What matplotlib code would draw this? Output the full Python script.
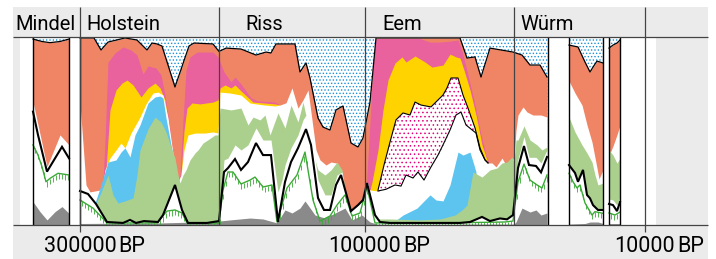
import numpy as np
import matplotlib
matplotlib.use("Agg")
import matplotlib.pyplot as plt
from matplotlib.patches import Rectangle

plt.rcParams['font.family'] = ['Roboto', 'DejaVu Sans']
plt.rcParams['hatch.linewidth'] = 0.6

# colours
SALMON = '#f08566'
PINK = '#e9619d'
YELLOW = '#ffd300'
LGREEN = '#abd08e'
BLUE = '#5cc4ef'
GRAY = '#8a8a8a'
BAND = '#ebebeb'
DOTBLUE = '#1a90d8'
DOTPINK = '#e5007d'
HGREEN = '#3aaa35'

# periods (label, position of label) and boundaries
periods = ['Mindel', 'Holstein', 'Riss', 'Eem', 'Würm']
period_label_x = [15, 86, 245, 382, 520]
period_lines = [80, 219, 365, 514, 645]
age_ticks = [80, 365, 645]
age_labels = ['300000', '100000', '10000']

# sampled core sections (x range)
sections = [(33, 69), (80, 548), (569, 603), (609, 620)]

# ---- Mindel section, cumulative %, (position, value) ----
top_A = [(33, 98.9), (42, 97.6), (50, 97.0), (60, 97.6), (69, 98.9)]
white_A = [(33, 65.6), (47, 31.0), (60, 47.9), (69, 42.6)]
black_A = [(33, 60.3), (38, 47.9), (47, 28.4), (62, 41.6), (69, 35.5)]
herb_A = [(33, 42.6), (38, 37.2), (42, 31.0), (46, 23.0), (50, 24.8), (58, 27.5), (69, 26.6)]
gray_A = [(33, 12.4), (40, 7.1), (47, 2.7), (55, 7.1), (62, 9.8), (69, 6.2)]

# ---- main section ----
top_B = [(80, 99.5), (94, 99.5), (101, 93.1), (108, 97.3), (125, 99.5), (137, 98.4), (147, 93.1),
         (152, 96.8), (157, 96.3), (162, 95.2), (175, 73.4), (189, 95.2), (194, 96.8), (213, 96.3),
         (219, 92.3), (226, 94.1), (241, 93.6), (256, 90.4), (266, 92.0), (271, 91.5), (276, 96.3),
         (295, 96.3), (300, 81.4), (306, 86.2), (310, 78.2), (318, 56.9), (323, 52.1), (330, 50.5),
         (336, 61.2), (343, 63.3), (351, 43.6), (358, 41.5), (363, 46.3), (370, 65.4), (376, 99.5),
         (460, 99.5), (467, 88.8), (475, 89.4), (481, 78.7), (490, 94.1), (501, 93.1), (513, 92.0),
         (522, 90.4), (530, 85.1), (540, 85.1), (547, 78.7)]
pink_B1 = [(103, 22.9), (105, 45.0), (108, 86.7), (115, 91.5), (123, 94.7), (131, 93.1), (137, 90.4),
           (143, 80.3), (148, 84.6), (156, 83.5), (161, 79.8), (165, 69.1), (170, 50.5), (174, 31.9),
           (177, 22.9), (180, 26.6), (183, 55.9), (186, 82.4), (190, 89.4), (197, 92.0), (213, 92.0),
           (218, 89.4), (220, 86.7), (224, 81.4), (231, 76.1), (235, 78.7), (241, 75.0), (251, 67.6),
           (258, 66.0), (275, 65.4), (280, 63.8)]
pink_B2 = [(366, 18.6), (370, 55.0), (373, 85.0), (376, 99.2), (420, 99.2), (430, 97.3), (440, 97.3),
           (450, 97.8), (458, 98.4), (462, 92.6), (468, 79.8), (474, 66.5), (480, 50.5), (486, 37.2),
           (489, 33.0)]
yellow_B1 = [(103, 22.9), (106, 29.3), (110, 61.2), (116, 71.8), (122, 75.5), (127, 77.1), (133, 74.5),
             (141, 68.1), (148, 72.9), (155, 75.5), (160, 72.9), (165, 66.5), (170, 47.9), (175, 29.3),
             (178, 22.9), (181, 26.6), (184, 50.0), (187, 62.2), (192, 64.9), (200, 64.4), (213, 65.4),
             (218, 66.5), (220, 72.9), (225, 74.5), (231, 72.9), (235, 74.5), (241, 71.3), (253, 65.4),
             (275, 64.4), (280, 63.8)]
yellow_B2 = [(370, 18.6), (372, 22.9), (378, 39.9), (383, 61.2), (388, 77.1), (395, 86.2), (402, 89.4),
             (406, 86.7), (415, 89.9), (425, 86.7), (432, 84.0), (438, 84.6), (443, 85.1), (450, 90.9),
             (456, 89.4), (460, 88.8), (464, 82.4), (470, 71.8), (476, 58.5), (482, 42.6), (487, 34.6),
             (488, 33.0)]
hazel_B = [(378, 18.6), (380, 22.9), (384, 31.9), (390, 44.1), (396, 55.9), (403, 59.6), (410, 58.5),
           (415, 65.4), (421, 63.8), (431, 62.8), (438, 66.5), (443, 69.1), (447, 72.9), (451, 78.2),
           (458, 78.2), (463, 69.1), (468, 62.2), (475, 51.6), (480, 41.0), (485, 34.6), (488, 33.0)]
white_B = [(80, 64.9), (86, 21.3), (90, 17.6), (100, 18.6), (103, 22.9), (105, 29.3), (110, 35.6),
           (116, 39.9), (121, 43.6), (125, 41.0), (131, 48.9), (140, 57.4), (146, 64.4), (153, 70.2),
           (158, 70.7), (163, 69.1), (168, 56.9), (175, 30.3), (178, 22.9), (181, 26.6), (184, 39.9),
           (188, 47.9), (195, 48.9), (205, 48.9), (213, 49.5), (218, 48.9), (220, 70.7), (230, 70.2),
           (241, 69.1), (250, 64.9), (256, 64.4), (265, 63.8), (275, 63.3), (280, 63.8), (286, 65.0),
           (292, 72.9), (298, 62.2), (303, 66.5), (308, 71.8), (312, 55.9), (316, 39.9), (320, 34.6),
           (326, 31.9), (331, 33.5), (337, 32.9), (342, 25.0), (347, 12.8), (352, 7.4), (360, 9.0),
           (365, 21.3), (370, 18.6), (378, 18.1), (386, 19.0), (395, 21.3), (401, 20.7), (406, 26.6),
           (413, 25.0), (418, 28.2), (424, 23.9), (431, 30.9), (438, 37.2), (443, 42.6), (450, 50.5),
           (456, 58.5), (461, 60.1), (466, 53.2), (476, 48.9), (480, 39.9), (485, 34.6), (488, 33.0),
           (492, 33.0), (496, 30.9), (502, 35.6), (507, 30.9), (512, 35.6), (514, 34.6), (516, 50.5),
           (518, 58.5), (523, 62.8), (527, 60.1), (533, 58.5), (541, 58.5), (547, 57.4)]
blue_B1 = [(95, 11.7), (100, 19.7), (104, 26.6), (108, 33.5), (116, 34.6), (121, 38.8), (125, 41.0),
           (130, 36.2), (135, 47.9), (140, 53.2), (148, 64.9), (155, 68.1), (160, 68.6), (163, 67.6),
           (166, 56.9), (172, 39.9), (175, 30.3), (178, 22.9), (180, 22.3)]
blue_B2 = [(395, 2.1), (403, 5.3), (417, 9.0), (430, 16.0), (436, 13.3), (443, 12.8), (450, 21.3),
           (458, 38.8), (463, 37.2), (470, 38.8), (474, 31.9), (476, 28.2)]
green_B = [(88, 16.5), (92, 11.7), (96, 11.7), (100, 16.0), (104, 21.3), (108, 26.6), (113, 16.0),
           (118, 11.7), (125, 12.8), (133, 14.4), (137, 26.6), (140, 39.9), (148, 51.1), (155, 57.4),
           (161, 54.8), (166, 49.5), (172, 39.9), (175, 35.6), (178, 26.6), (180, 22.3), (183, 26.6),
           (186, 29.3), (190, 34.6), (195, 38.3), (198, 39.9), (203, 43.6), (209, 45.7), (215, 47.9),
           (218, 47.9), (220, 62.2), (231, 61.2), (241, 62.2), (248, 53.2), (253, 57.4), (260, 55.9),
           (265, 58.5), (270, 47.9), (278, 59.6), (285, 51.6), (291, 63.8), (298, 54.8), (303, 65.4),
           (308, 53.2), (312, 39.9), (318, 29.3), (325, 26.6), (331, 29.3), (337, 33.5), (342, 29.3),
           (347, 12.8), (352, 6.9), (360, 8.0), (365, 16.0), (368, 22.3), (372, 10.6), (376, 3.2),
           (390, 3.2), (420, 2.7), (440, 3.2), (455, 5.3), (462, 8.0), (467, 10.6), (473, 28.2),
           (482, 25.5), (490, 29.3), (497, 30.3), (502, 33.0), (507, 33.5), (512, 36.2), (514, 33.5),
           (516, 45.2), (518, 45.2), (524, 52.7), (530, 45.2), (537, 42.6), (542, 39.9), (547, 41.5)]
gap_B1 = [(219, 2.1), (222, 21.3), (224, 34.6), (228, 35.6), (235, 42.6), (241, 39.9), (248, 42.6),
          (256, 51.6), (263, 45.2), (271, 45.2), (275, 29.3), (278, 17.6), (282, 23.9), (285, 31.9),
          (291, 41.0), (298, 47.9), (303, 55.9), (306, 58.5), (311, 50.5), (318, 23.9), (325, 16.0),
          (331, 16.0), (337, 26.6), (342, 28.2), (347, 10.6), (352, 6.9), (360, 9.0), (365, 16.0),
          (368, 22.3), (372, 8.0), (376, 5.3)]
gap_B2 = [(514, 5.3), (516, 25.0), (518, 35.0), (524, 47.0), (529, 36.0), (536, 36.0), (541, 33.0),
          (547, 40.0)]
black_B = [(80, 18.1), (88, 16.5), (96, 11.2), (107, 1.6), (123, 1.1), (130, 2.7), (136, 1.1), (144, 2.1),
           (158, 1.6), (163, 5.3), (175, 21.3), (182, 8.0), (188, 1.1), (207, 1.1), (213, 1.6), (219, 2.1),
           (224, 28.2), (228, 30.3), (235, 35.1), (241, 29.3), (248, 33.5), (256, 43.6), (263, 37.2),
           (271, 37.2), (278, 1.6), (285, 22.9), (291, 33.5), (298, 40.9), (306, 51.0), (311, 42.6),
           (318, 14.4), (324, 8.0), (330, 8.0), (336, 21.3), (341, 26.6), (351, 7.4), (358, 10.6),
           (363, 13.3), (367, 22.3), (375, 5.3), (380, 1.6), (390, 1.1), (460, 1.1), (470, 1.6),
           (482, 4.3), (490, 2.1), (500, 3.5), (507, 3.0), (513, 5.3), (518, 30.3), (524, 42.0),
           (529, 31.9), (536, 31.4), (541, 28.0), (547, 36.2)]
herb_B = [(80, 13.3), (93, 9.0), (107, 1.1), (157, 1.1), (167, 7.4), (175, 8.0), (182, 6.4), (187, 1.1),
          (219, 1.1), (223, 18.6), (228, 28.2), (233, 28.2), (241, 21.8), (250, 23.9), (255, 25.5),
          (263, 20.2), (272, 21.3), (277, 1.6), (287, 19.7), (297, 26.6), (305, 38.8), (313, 13.3),
          (320, 2.1), (330, 4.8), (337, 10.6), (345, 16.0), (352, 4.8), (360, 6.4), (367, 20.2),
          (375, 1.1), (470, 1.3), (505, 1.6), (513, 2.1), (518, 22.9), (524, 32.4), (530, 23.9),
          (537, 21.3), (542, 19.7), (547, 26.6)]
gray_B = [(80, 0.8), (160, 1.1), (198, 1.6), (219, 2.1), (230, 2.7), (250, 3.7), (263, 3.2), (277, 1.1),
          (285, 8.0), (292, 6.4), (300, 9.0), (305, 12.8), (315, 5.3), (325, 3.7), (337, 6.9), (345, 9.0),
          (352, 2.7), (362, 5.3), (370, 1.6), (377, 0.5), (514, 0.5), (516, 1.6), (522, 9.0), (530, 6.9),
          (536, 8.0), (541, 5.3), (547, 6.4)]

# ---- late sections ----
top_C = [(569, 95.7), (578, 94.7), (585, 86.7), (590, 81.4), (593, 84.0), (597, 87.2), (603, 86.2)]
white_C = [(569, 76.6), (575, 70.2), (582, 63.8), (587, 53.2), (592, 44.1), (597, 30.3), (599, 24.5), (603, 29.3)]
green_C = [(569, 57.4), (575, 49.5), (582, 42.6), (587, 38.3), (592, 33.5), (595, 26.6), (598, 21.3), (603, 22.3)]
black_C = [(569, 31.9), (575, 27.7), (578, 23.0), (583, 29.3), (587, 16.0), (590, 14.2), (593, 10.6),
           (598, 8.0), (603, 8.0)]
herb_C = [(569, 27.5), (573, 23.0), (577, 19.7), (580, 21.3), (585, 11.7), (592, 5.3), (595, 7.1), (603, 6.2)]
gray_C = [(569, 0.5), (585, 0.8), (590, 1.6), (598, 1.6), (603, 0.8)]

top_D = [(609, 94.1), (613, 95.7), (617, 96.8), (620, 98.4)]
white_D = [(609, 37.0), (613, 42.0), (617, 48.0), (620, 53.0)]
green_D = [(609, 39.9), (613, 37.2), (617, 32.9), (620, 35.6)]
gap_D = [(609, 13.8), (613, 13.3), (617, 10.6), (620, 14.9)]
black_D = [(609, 11.2), (613, 10.6), (617, 7.4), (620, 12.2)]
herb_D = [(609, 6.4), (615, 5.3), (620, 6.9)]
gray_D = [(609, 0.5), (620, 0.5)]


def xy(seq):
    a = np.array(seq, dtype=float)
    return a[:, 0], a[:, 1]


fig = plt.figure(figsize=(7.16, 2.59), dpi=100)
ax = fig.add_axes([0, 0, 1, 1])
ax.set_xlim(0, 716)
ax.set_ylim(-34 / 1.88, 225 / 1.88)
ax.axis('off')


def fill(seq, color, z=2, hatch=None, hcolor=None):
    x, y = xy(seq)
    if hatch:
        ax.fill_between(x, 0, y, facecolor='white', edgecolor=hcolor, hatch=hatch,
                        linewidth=0, zorder=z)
    else:
        ax.fill_between(x, 0, y, color=color, linewidth=0, zorder=z)


def herb_line(seq):
    # green curve with short vertical hatching hanging below it
    x, y = xy(seq)
    ax.plot(x, y, color=HGREEN, lw=1.0, zorder=5)
    tx = np.arange(x[0] + 1.5, x[-1], 3.0)
    ty = np.interp(tx, x, y)
    ax.vlines(tx, np.maximum(ty - 2.8, 0), ty, color=HGREEN, lw=0.6, zorder=5)


# frame bands
ax.add_patch(Rectangle((13, 100), 695, 16, color=BAND, lw=0, zorder=0))
ax.add_patch(Rectangle((13, -34 / 1.88), 695, 34 / 1.88, color=BAND, lw=0, zorder=0))
ax.add_patch(Rectangle((13, 0), 7, 100, color=BAND, lw=0, zorder=0))
ax.add_patch(Rectangle((656, 0), 52, 100, color=BAND, lw=0, zorder=0))

# dotted background (upper part) for every section
for x0, x1 in sections:
    fill([(x0, 100), (x1, 100)], None, hatch='.....', hcolor=DOTBLUE)

# stacked layers, painted from the top down
fill(top_A, SALMON)
fill(white_A, 'white')
fill(black_A, 'white')
fill(gray_A, GRAY)

fill(top_B, SALMON)
fill(pink_B1, PINK)
fill(pink_B2, PINK)
fill(yellow_B1, YELLOW)
fill(yellow_B2, YELLOW)
fill(hazel_B, None, hatch='....', hcolor=DOTPINK)
fill(white_B, 'white')
fill(blue_B1, BLUE)
fill(blue_B2, BLUE)
fill(green_B, LGREEN)
fill(gap_B1, 'white')
fill(gap_B2, 'white')
fill(black_B, 'white')
fill(gray_B, GRAY)

fill(top_C, SALMON)
fill(white_C, 'white')
fill(green_C, LGREEN)
fill(black_C, 'white')
fill(gray_C, GRAY)

fill(top_D, SALMON)
fill(white_D, 'white')
fill(green_D, LGREEN)
fill(gap_D, 'white')
fill(black_D, 'white')
fill(gray_D, GRAY)

# outlines
hx, hy = xy(hazel_B)
ax.plot(hx, hy, color='black', lw=0.8, zorder=4)
wx, wy = xy(white_B)
m = (wx >= 378) & (wx <= 488)
ax.plot(wx[m], wy[m], color='black', lw=0.8, zorder=4)

for top, black, herb in [(top_A, black_A, herb_A), (top_B, black_B, herb_B),
                         (top_C, black_C, herb_C), (top_D, black_D, herb_D)]:
    x, y = xy(top)
    ax.plot(x, y, color='black', lw=0.9, zorder=5)
    herb_line(herb)
    x, y = xy(black)
    ax.plot(x, y, color='black', lw=1.5, zorder=6, solid_joinstyle='miter')

for x0, x1 in sections:
    ax.vlines([x0, x1], 0, 100, color='black', lw=1.0, zorder=7)

# period boundaries and frame lines
ax.vlines(period_lines, 0, 116, color='#444444', lw=0.9, zorder=8)
ax.vlines(age_ticks, -3.7, 0, color='#444444', lw=0.9, zorder=8)
ax.hlines([0, 100], 13, 708, color='#444444', lw=0.9, zorder=8)

for name, px in zip(periods, period_label_x):
    ax.text(px, 103.7, name, fontsize=14.5, ha='left', va='baseline', color='black', zorder=9)

for px, lab in zip(age_ticks, age_labels):
    t = ax.text(px, -14.4, lab, fontsize=15.5, ha='center', va='baseline', zorder=9)
    ax.annotate('BP', xy=(1, 0), xycoords=t, xytext=(1.5, 0), textcoords='offset points',
                fontsize=15.5, ha='left', va='bottom', zorder=9)

fig.savefig('out.png', dpi=100)
